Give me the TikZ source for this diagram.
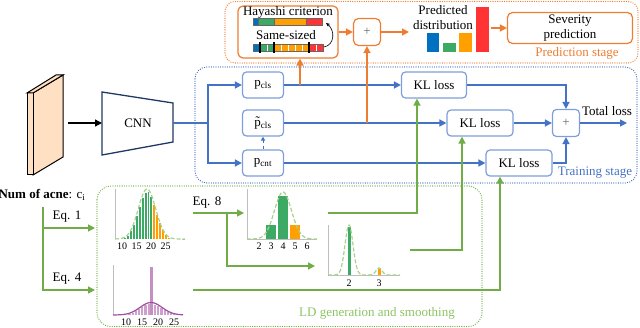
\documentclass[tikz,border=0pt]{standalone}
\usepackage{fontspec}
\setmainfont{Liberation Serif}
\usepackage{tikz}
\usetikzlibrary{arrows.meta}
\definecolor{predorange}{RGB}{237,125,49}
\definecolor{trainblue}{RGB}{68,114,196}
\definecolor{boxblue}{RGB}{125,158,218}
\definecolor{ldgreen}{RGB}{112,173,71}
\definecolor{ldtext}{RGB}{140,195,100}
\definecolor{ldlight}{RGB}{169,209,142}
\definecolor{bargreen}{RGB}{60,170,100}
\definecolor{barorange}{RGB}{255,160,0}
\definecolor{barblue}{RGB}{0,112,192}
\definecolor{barred}{RGB}{255,51,51}
\definecolor{cnnnavy}{RGB}{31,56,100}
\definecolor{bookpeach}{RGB}{255,224,194}
\definecolor{ldpurple}{RGB}{160,80,160}
\definecolor{ldlilac}{RGB}{205,160,205}
\definecolor{axisgray}{RGB}{190,190,190}

\begin{document}
\begin{tikzpicture}[x=1pt, y=-1pt, >={Triangle[length=7pt,width=7pt]},
    every node/.style={font=\fontsize{13}{15}\selectfont},
    predbox/.style={draw=predorange, line width=1.2pt, rounded corners=5pt, inner sep=0pt},
    trainbox/.style={draw=boxblue, line width=1.2pt, rounded corners=4pt, inner sep=0pt, minimum height=26pt},
    orline/.style={draw=predorange, line width=1.5pt},
    blline/.style={draw=trainblue, line width=1.5pt},
    grline/.style={draw=ldgreen, line width=1.5pt},
    stageframe/.style={line width=1.3pt, dash pattern=on 0pt off 2.3pt, line cap=round},
    ticklabel/.style={font=\fontsize{10}{11}\selectfont, inner sep=0pt},
    axisline/.style={draw=axisgray, line width=0.8pt}]
    \useasboundingbox (0,0) rectangle (640,328);

    % Stage frames
    \draw[stageframe, predorange, rounded corners=10pt] (225,1.5) rectangle (638,63);
    \draw[stageframe, trainblue, rounded corners=12pt] (195,67) rectangle (637,183);
    \draw[stageframe, ldgreen, rounded corners=14pt] (97,186) rectangle (482,326.5);
    \node[text=predorange] (predlab) at (577,53) {Prediction stage};
    \node[text=trainblue] (trainlab) at (595,173) {Training stage};
    \node[text=ldtext] (ldlab) at (377,313) {LD generation and smoothing};

    % Input image
    \filldraw[fill=bookpeach, draw=black, line width=1pt] (33,93) -- (63,75) -- (63,157) -- (33,175) -- cycle;
    \filldraw[fill=bookpeach, draw=black, line width=1pt] (27,93) -- (33,93) -- (33,175) -- (27,175) -- cycle;
    \filldraw[fill=bookpeach, draw=black, line width=1pt] (27,93) -- (56,75) -- (63,75) -- (33,93) -- cycle;
    \coordinate (bookE) at (68,123);

    % CNN
    \draw[cnnnavy, line width=1.3pt] (102,92) -- (173,103) -- (173,142) -- (102,155) -- cycle;
    \node (cnn) at (138,123) {CNN};
    \coordinate (cnnW) at (102,123);
    \coordinate (cnnE) at (173,123);
    \coordinate (split) at (208,123);
    \draw[black, line width=1.3pt, ->] (bookE) -- (cnnW);

    % Training stage
    \node[trainbox, minimum width=41pt] (pcls) at (263,85) {p\textsubscript{cls}};
    \node[trainbox, minimum width=41pt] (ptcls) at (263,123) {\~{p}\textsubscript{cls}};
    \node[trainbox, minimum width=41pt] (pcnt) at (263,163) {p\textsubscript{cnt}};
    \node[trainbox, minimum width=65pt] (kl1) at (434,85) {KL loss};
    \node[trainbox, minimum width=66pt] (kl2) at (480,123) {KL loss};
    \node[trainbox, minimum width=66pt] (kl3) at (519,163) {KL loss};
    \node[trainbox, minimum width=27pt, minimum height=27pt, text=black!60] (tsum) at (566,123) {+};
    \coordinate (total) at (627,123);
    \node (totallab) at (607,111) {Total loss};

    \draw[blline] (cnnE) -- (split);
    \draw[blline, ->] (split) |- (pcls);
    \draw[blline, ->] (split) |- (pcnt);
    \draw[trainblue, line width=1pt, dashed, -{Triangle[length=4pt,width=4pt]}] (pcnt) -- (ptcls);
    \draw[blline, ->] (pcls) -- (kl1);
    \draw[blline, ->] (ptcls) -- (kl2);
    \draw[blline, ->] (pcnt) -- (kl3);
    \draw[blline, ->] (kl1) -| (tsum);
    \draw[blline, ->] (kl2) -- (tsum);
    \draw[blline, ->] (kl3) -| (tsum);
    \draw[blline, ->] (tsum) -- (total);

    % Prediction stage
    \node[predbox, minimum width=100pt, minimum height=52pt] (hay) at (288,32) {};
    \node (haytxt) at (288,12) {Hayashi criterion};
    \node (sametxt) at (286,35) {Same-sized};
    % Hayashi bar
    \filldraw[fill=barblue, draw=black!60, line width=0.4pt] (253,18) rectangle (258,25);
    \filldraw[fill=bargreen, draw=black!60, line width=0.4pt] (258,18) rectangle (274,25);
    \filldraw[fill=barorange, draw=black!60, line width=0.4pt] (274,18) rectangle (306,25);
    \filldraw[fill=barred, draw=black!60, line width=0.4pt] (306,18) rectangle (322,25);
    % Same-sized bar
    \foreach \i/\c in {0/barblue,1/bargreen,2/bargreen,3/barorange,4/barorange,5/barorange,6/barorange,7/barorange,8/barred,9/barred}
        \filldraw[fill=\c, draw=white, line width=0.5pt] (253+7*\i,44) rectangle (260+7*\i,51);
    \draw[black!60, line width=0.4pt] (253,44) rectangle (323,51);
    \foreach \tx in {260,274,309}
        \draw[black, line width=1.2pt] (\tx,42) -- (\tx,53);
    \coordinate (sameE) at (324,47);
    \coordinate (hayE) at (326,23);
    \draw[black, line width=0.6pt, -{Stealth[length=4pt,width=3.5pt]}] (sameE) .. controls (335,45) and (335,30) .. (hayE);

    \node[predbox, minimum size=27pt, text=black!60] (psum) at (367,32) {+};
    \coordinate (distW) at (409,32);
    \coordinate (distE) at (491,28);
    \node[align=center] (distlab) at (443,18) {Predicted\\distribution};
    % Predicted distribution
    \fill[barblue] (427,33) rectangle (439,52);
    \fill[bargreen] (443,43) rectangle (456,52);
    \fill[barorange] (459,33) rectangle (472,52);
    \fill[barred] (476,7) rectangle (489,52);
    \node[predbox, minimum width=125pt, minimum height=31pt, align=center] (sev) at (570,28) {Severity\\prediction};

    \coordinate (tapcls) at (300,85);
    \coordinate (tapt) at (367,123);
    \draw[orline, ->] (tapcls) -- (tapcls |- hay.south);
    \draw[orline, ->] (tapt) -- (psum);
    \draw[orline, ->] (hay) -- (psum);
    \draw[orline, ->] (psum) -- (distW);
    \draw[orline, ->] (distE) -- (sev);

    % Label distribution generation
    \node[inner sep=0pt] (acne) at (42,195) {\textbf{Num of acne}: c\textsubscript{i}};
    \coordinate (acnesplit) at (43,207);
    \coordinate (ldin1) at (95,228);
    \coordinate (ldin4) at (95,290);
    \draw[grline, ->] (acnesplit) |- (ldin1);
    \draw[grline, ->] (acnesplit) |- (ldin4);
    \node (eq1) at (67,217) {Eq. 1};
    \node (eq4) at (67,279) {Eq. 4};

    % Distribution from Eq. 1
    \draw[axisline] (115,189) -- (115,239) -- (185,239);
    \foreach \v in {8,...,30} {
        \pgfmathsetmacro{\bx}{122+(\v-10)*2.9}
        \pgfmathsetmacro{\bh}{48*exp(-((\v-18.6)^2)/18)}
        \ifnum\v>20 \def\bc{barorange}\else\def\bc{bargreen}\fi
        \filldraw[fill=\bc, draw=white, line width=0.3pt] (\bx-1.45,239) rectangle (\bx+1.45,239-\bh);
    }
    \draw[ldlight, line width=1.2pt, dash pattern=on 4pt off 2pt] plot[domain=115:185, samples=80] (\x, {239-50*exp(-((\x-147)^2)/(2*8.7*8.7))});
    \foreach \t/\px in {10/122,15/136.5,20/151,25/165.5}
        \node[ticklabel] (ta\t) at (\px,246) {\t};

    % Eq. 8 rescaling
    \coordinate (eq8start) at (193,213);
    \coordinate (eq8split) at (227,213);
    \coordinate (eq8end) at (244,213);
    \coordinate (eq8low) at (315,266);
    \draw[grline, ->] (eq8start) -- (eq8end);
    \draw[grline, ->] (eq8split) |- (eq8low);
    \node (eq8) at (207,203) {Eq. 8};

    % Rescaled distribution
    \draw[axisline] (247,189) -- (247,239) -- (317,239);
    \fill[bargreen] (266,239) rectangle (276,225);
    \fill[bargreen] (278,239) rectangle (288,196);
    \fill[barorange] (290,239) rectangle (300,225);
    \draw[ldlight, line width=1.2pt, dash pattern=on 4pt off 2pt] plot[domain=247:317, samples=80] (\x, {239-47*exp(-((\x-283)^2)/(2*8.5*8.5))});
    \foreach \t in {2,...,6}
        \node[ticklabel] (tb\t) at (259+12*\t-24,246) {\t};

    % Smoothed distribution
    \draw[axisline] (328,225) -- (328,275) -- (400,275);
    \fill[bargreen] (347.5,275) rectangle (350.5,227);
    \fill[barorange] (377.5,275) rectangle (380.5,269);
    \draw[ldlight, line width=1.2pt, dash pattern=on 4pt off 2pt] plot[domain=328:400, samples=140] (\x, {275-50*exp(-((\x-349)^2)/32)-7*exp(-((\x-379)^2)/18)});
    \node[ticklabel] (tc2) at (349,283) {2};
    \node[ticklabel] (tc3) at (379,283) {3};

    % Distribution from Eq. 4
    \draw[axisline] (113,265) -- (113,315) -- (183,315);
    \foreach \v in {5,...,30} {
        \pgfmathsetmacro{\bx}{126+(\v-10)*3.2}
        \pgfmathsetmacro{\bh}{12*exp(-((\v-17.8)^2)/24)}
        \filldraw[fill=ldlilac, draw=white, line width=0.3pt] (\bx-1.6,315) rectangle (\bx+1.6,315-\bh);
    }
    \fill[ldlilac!80!ldpurple] (150,315) rectangle (152.5,267);
    \draw[ldpurple, line width=1.2pt] plot[domain=113:183, samples=80] (\x, {315-12.5*exp(-((\x-151)^2)/(2*11*11))});
    \foreach \t/\px in {10/126,15/142,20/158,25/174}
        \node[ticklabel] (td\t) at (\px,322) {\t};

    % Into the KL losses
    \coordinate (c2out) at (328,213);
    \coordinate (c3out) at (410,250);
    \coordinate (c4out) at (193,290);
    \draw[grline, ->] (c2out) -| ([xshift=-17pt]kl1.south);
    \draw[grline, ->] (c3out) -| ([xshift=-18pt]kl2.south);
    \draw[grline, ->] (c4out) -| ([xshift=-19pt]kl3.south);
\end{tikzpicture}
\end{document}
